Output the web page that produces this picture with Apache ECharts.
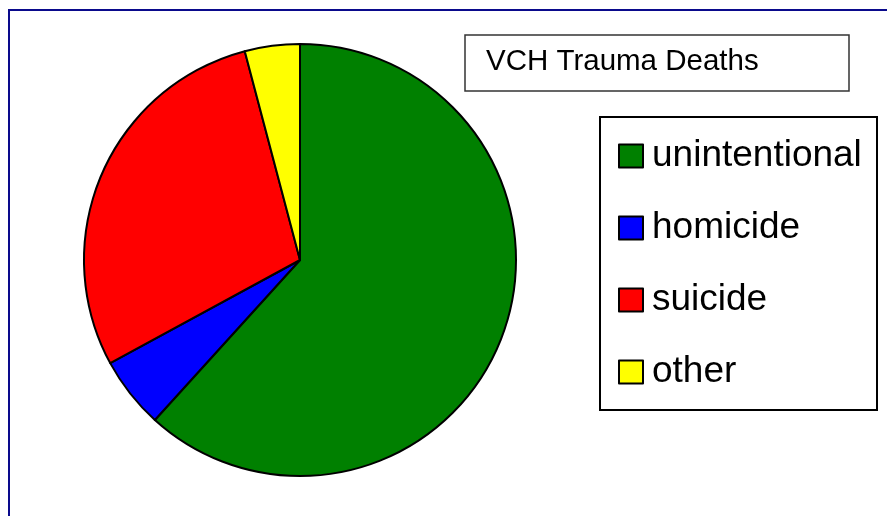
<!DOCTYPE html>
<html><head><meta charset="utf-8">
<script src="https://cdn.jsdelivr.net/npm/echarts@6/dist/echarts.min.js"></script>
<style>html,body{margin:0;padding:0;background:#fff}#c{width:887px;height:516px}</style>
</head><body><div id="c"></div>
<script>
const categories = ['unintentional', 'homicide', 'suicide', 'other'];
const values = [150, 13, 70, 10];
const colors = ['#008000', '#0000FF', '#FF0000', '#FFFF00'];
const titleText = 'VCH Trauma Deaths';

const FONT = '"Liberation Sans", Arial, sans-serif';
const chart = echarts.init(document.getElementById('c'), null, {renderer: 'canvas'});
chart.setOption({
  animation: false,
  backgroundColor: '#fff',
  graphic: [
    {type: 'rect', shape: {x: 9, y: 10, width: 900, height: 520},
     style: {fill: 'none', stroke: '#0a0a8c', lineWidth: 2}, z: 0},
    {type: 'rect', shape: {x: 465, y: 35, width: 384, height: 56},
     style: {fill: '#fff', stroke: '#333', lineWidth: 1.5}, z: 1},
    {type: 'text', left: 486, top: 47,
     style: {text: titleText, font: '29.5px ' + FONT, fill: '#000'}, z: 2},
    {type: 'rect', shape: {x: 600, y: 117, width: 277, height: 293},
     style: {fill: '#fff', stroke: '#000', lineWidth: 2}, z: 1}
  ],
  legend: {
    orient: 'vertical',
    left: 618,
    top: 137,
    itemWidth: 24,
    itemHeight: 23,
    itemGap: 34,
    icon: 'rect',
    padding: 0,
    z: 5,
    textStyle: {fontFamily: FONT, fontSize: 37, color: '#000', lineHeight: 38, padding: [0, 0, 0, 4]},
    itemStyle: {borderColor: '#000', borderWidth: 2},
    data: categories
  },
  series: [{
    type: 'pie',
    center: [300, 260],
    radius: 216,
    startAngle: 90,
    clockwise: true,
    label: {show: false},
    labelLine: {show: false},
    emphasis: {disabled: true},
    itemStyle: {borderColor: '#000', borderWidth: 2},
    data: categories.map((c, i) => ({name: c, value: values[i], itemStyle: {color: colors[i]}}))
  }]
});
</script></body></html>
